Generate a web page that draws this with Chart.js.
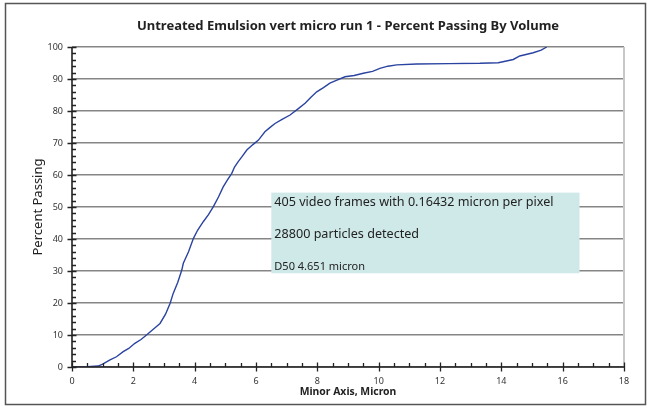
<!DOCTYPE html>
<html>
<head>
<meta charset="utf-8">
<script src="https://cdn.jsdelivr.net/npm/chart.js@4.4.1/dist/chart.umd.min.js"></script>
<style>
  html, body { margin: 0; padding: 0; background: #fff; }
  #wrap { width: 651px; height: 408px; position: relative; }
</style>
</head>
<body>
<div id="wrap"><canvas id="c" width="651" height="408"></canvas></div>
<script>
const titleText = "Untreated Emulsion vert micro run 1 - Percent Passing By Volume";
const xAxisTitle = "Minor Axis, Micron";
const yAxisTitle = "Percent Passing";
const noteLines = ["405 video frames with 0.16432 micron per pixel", "28800 particles detected", "D50 4.651 micron"];

const minorAxis = [0, 0.2, 0.5, 0.85, 1.0, 1.24, 1.45, 1.67, 1.85, 2.05, 2.25, 2.43, 2.65, 2.87, 3.05, 3.2, 3.3, 3.45, 3.58, 3.63, 3.8, 3.96, 4.1, 4.28, 4.45, 4.61, 4.78, 4.93, 5.08, 5.21, 5.3, 5.42, 5.55, 5.7, 5.9, 6.08, 6.29, 6.45, 6.62, 6.85, 7.11, 7.35, 7.6, 7.8, 7.98, 8.2, 8.41, 8.6, 8.9, 9.2, 9.5, 9.8, 10.04, 10.3, 10.59, 11.24, 12.3, 13.3, 13.9, 14.39, 14.6, 15.04, 15.3, 15.48];
const percentPassing = [0, 0, 0.1, 0.3, 0.9, 2.2, 3.2, 4.8, 5.8, 7.4, 8.6, 10, 11.8, 13.6, 16.5, 19.9, 23, 26.5, 30.3, 32.4, 36, 40.2, 42.8, 45.4, 47.6, 50.1, 53.2, 56.3, 58.6, 60.5, 62.5, 64.2, 65.8, 67.8, 69.5, 70.9, 73.5, 74.8, 76.1, 77.4, 78.75, 80.5, 82.4, 84.4, 86, 87.3, 88.7, 89.5, 90.7, 91.1, 91.8, 92.4, 93.3, 94.0, 94.4, 94.7, 94.8, 94.9, 95.1, 96.1, 97.2, 98.2, 99.0, 100];

const xMin = 0, xMax = 18, xStep = 2, xMinorStep = 0.5;
const yMin = 0, yMax = 100, yStep = 10, yMinorStep = 2;

const points = minorAxis.map((x, i) => ({ x: x, y: percentPassing[i] }));
const FONT = "'Noto Sans', 'Open Sans', sans-serif";

const decor = {
  id: 'decor',
  beforeDatasetsDraw(chart) {
    const ctx = chart.ctx, a = chart.chartArea;
    const xs = chart.scales.x, ys = chart.scales.y;
    ctx.save();
    ctx.strokeStyle = '#c8c8c8';
    ctx.lineWidth = 2;
    ctx.beginPath();
    ctx.moveTo(a.right, a.top); ctx.lineTo(a.right, a.bottom);
    ctx.stroke();
    const bx1 = xs.getPixelForValue(6.5), bx2 = xs.getPixelForValue(16.55);
    const by1 = ys.getPixelForValue(54.5), by2 = ys.getPixelForValue(29.3);
    ctx.fillStyle = '#cfe8e8';
    ctx.fillRect(bx1, by1, bx2 - bx1, by2 - by1);
    ctx.fillStyle = '#222';
    ctx.textBaseline = 'middle';
    ctx.textAlign = 'left';
    ctx.font = "12.6px " + FONT;
    ctx.fillText(noteLines[0], bx1 + 3, by1 + 10);
    ctx.fillText(noteLines[1], bx1 + 3, by1 + 42);
    ctx.font = "11px " + FONT;
    ctx.fillText(noteLines[2], bx1 + 3, by1 + 74);
    ctx.restore();
  },
  afterDraw(chart) {
    const ctx = chart.ctx, a = chart.chartArea;
    const xs = chart.scales.x, ys = chart.scales.y;
    ctx.save();
    ctx.strokeStyle = '#222';
    ctx.lineWidth = 1.6;
    ctx.beginPath();
    ctx.moveTo(a.left, a.top); ctx.lineTo(a.left, a.bottom);
    ctx.moveTo(a.left, a.bottom); ctx.lineTo(a.right, a.bottom);
    ctx.stroke();
    ctx.lineWidth = 1.3;
    ctx.beginPath();
    for (let i = 0; i <= Math.round((yMax - yMin) / yMinorStep); i++) {
      const v = yMin + i * yMinorStep;
      const py = Math.round(ys.getPixelForValue(v)) + 0.5;
      const major = (v % yStep) === 0;
      if (major) { ctx.moveTo(a.left - 4.5, py); ctx.lineTo(a.left + 4.5, py); }
      else { ctx.moveTo(a.left, py); ctx.lineTo(a.left + 4, py); }
    }
    for (let i = 0; i <= Math.round((xMax - xMin) / xMinorStep); i++) {
      const v = xMin + i * xMinorStep;
      const px = Math.round(xs.getPixelForValue(v)) + 0.5;
      const major = Math.abs(v / xStep - Math.round(v / xStep)) < 1e-6;
      if (major) { ctx.moveTo(px, a.bottom - 4.5); ctx.lineTo(px, a.bottom + 4.5); }
      else { ctx.moveTo(px, a.bottom - 4); ctx.lineTo(px, a.bottom); }
    }
    ctx.stroke();
    ctx.strokeStyle = '#555';
    ctx.lineWidth = 1.5;
    ctx.strokeRect(5.5, 3.5, 640, 401);
    ctx.restore();
  }
};

new Chart(document.getElementById('c'), {
  type: 'scatter',
  data: {
    datasets: [{
      data: points,
      showLine: true,
      borderColor: '#2a43a0',
      borderWidth: 1.4,
      pointRadius: 0,
      tension: 0,
      fill: false
    }]
  },
  options: {
    responsive: false,
    animation: false,
    devicePixelRatio: 1,
    layout: { padding: { left: 0, right: 27, top: 0, bottom: 0 } },
    plugins: {
      legend: { display: false },
      tooltip: { enabled: false },
      title: {
        display: true,
        text: titleText,
        fullSize: false,
        color: '#222',
        font: { family: FONT, size: 13, weight: 'bold' },
        padding: { top: 18, bottom: 13.4 }
      }
    },
    scales: {
      x: {
        type: 'linear',
        min: xMin, max: xMax,
        border: { display: false },
        grid: { display: false, drawTicks: false },
        ticks: { stepSize: xStep, color: '#333', font: { family: FONT, size: 9 }, padding: 9, maxRotation: 0 },
        title: { display: true, text: xAxisTitle, color: '#222', font: { family: FONT, size: 10.4, weight: 'bold' }, padding: { top: 0, bottom: 10 } },
        afterFit(s) { s.height = 41; }
      },
      y: {
        type: 'linear',
        min: yMin, max: yMax,
        border: { display: false },
        grid: { color: '#858585', lineWidth: 1.5, drawTicks: false },
        ticks: { stepSize: yStep, color: '#333', font: { family: FONT, size: 9 }, padding: 9 },
        title: { display: true, text: yAxisTitle, color: '#222', font: { family: FONT, size: 13 }, padding: { top: 30, bottom: 0 } },
        afterFit(s) { s.width = 72; }
      }
    }
  },
  plugins: [decor]
});
</script>
</body>
</html>
